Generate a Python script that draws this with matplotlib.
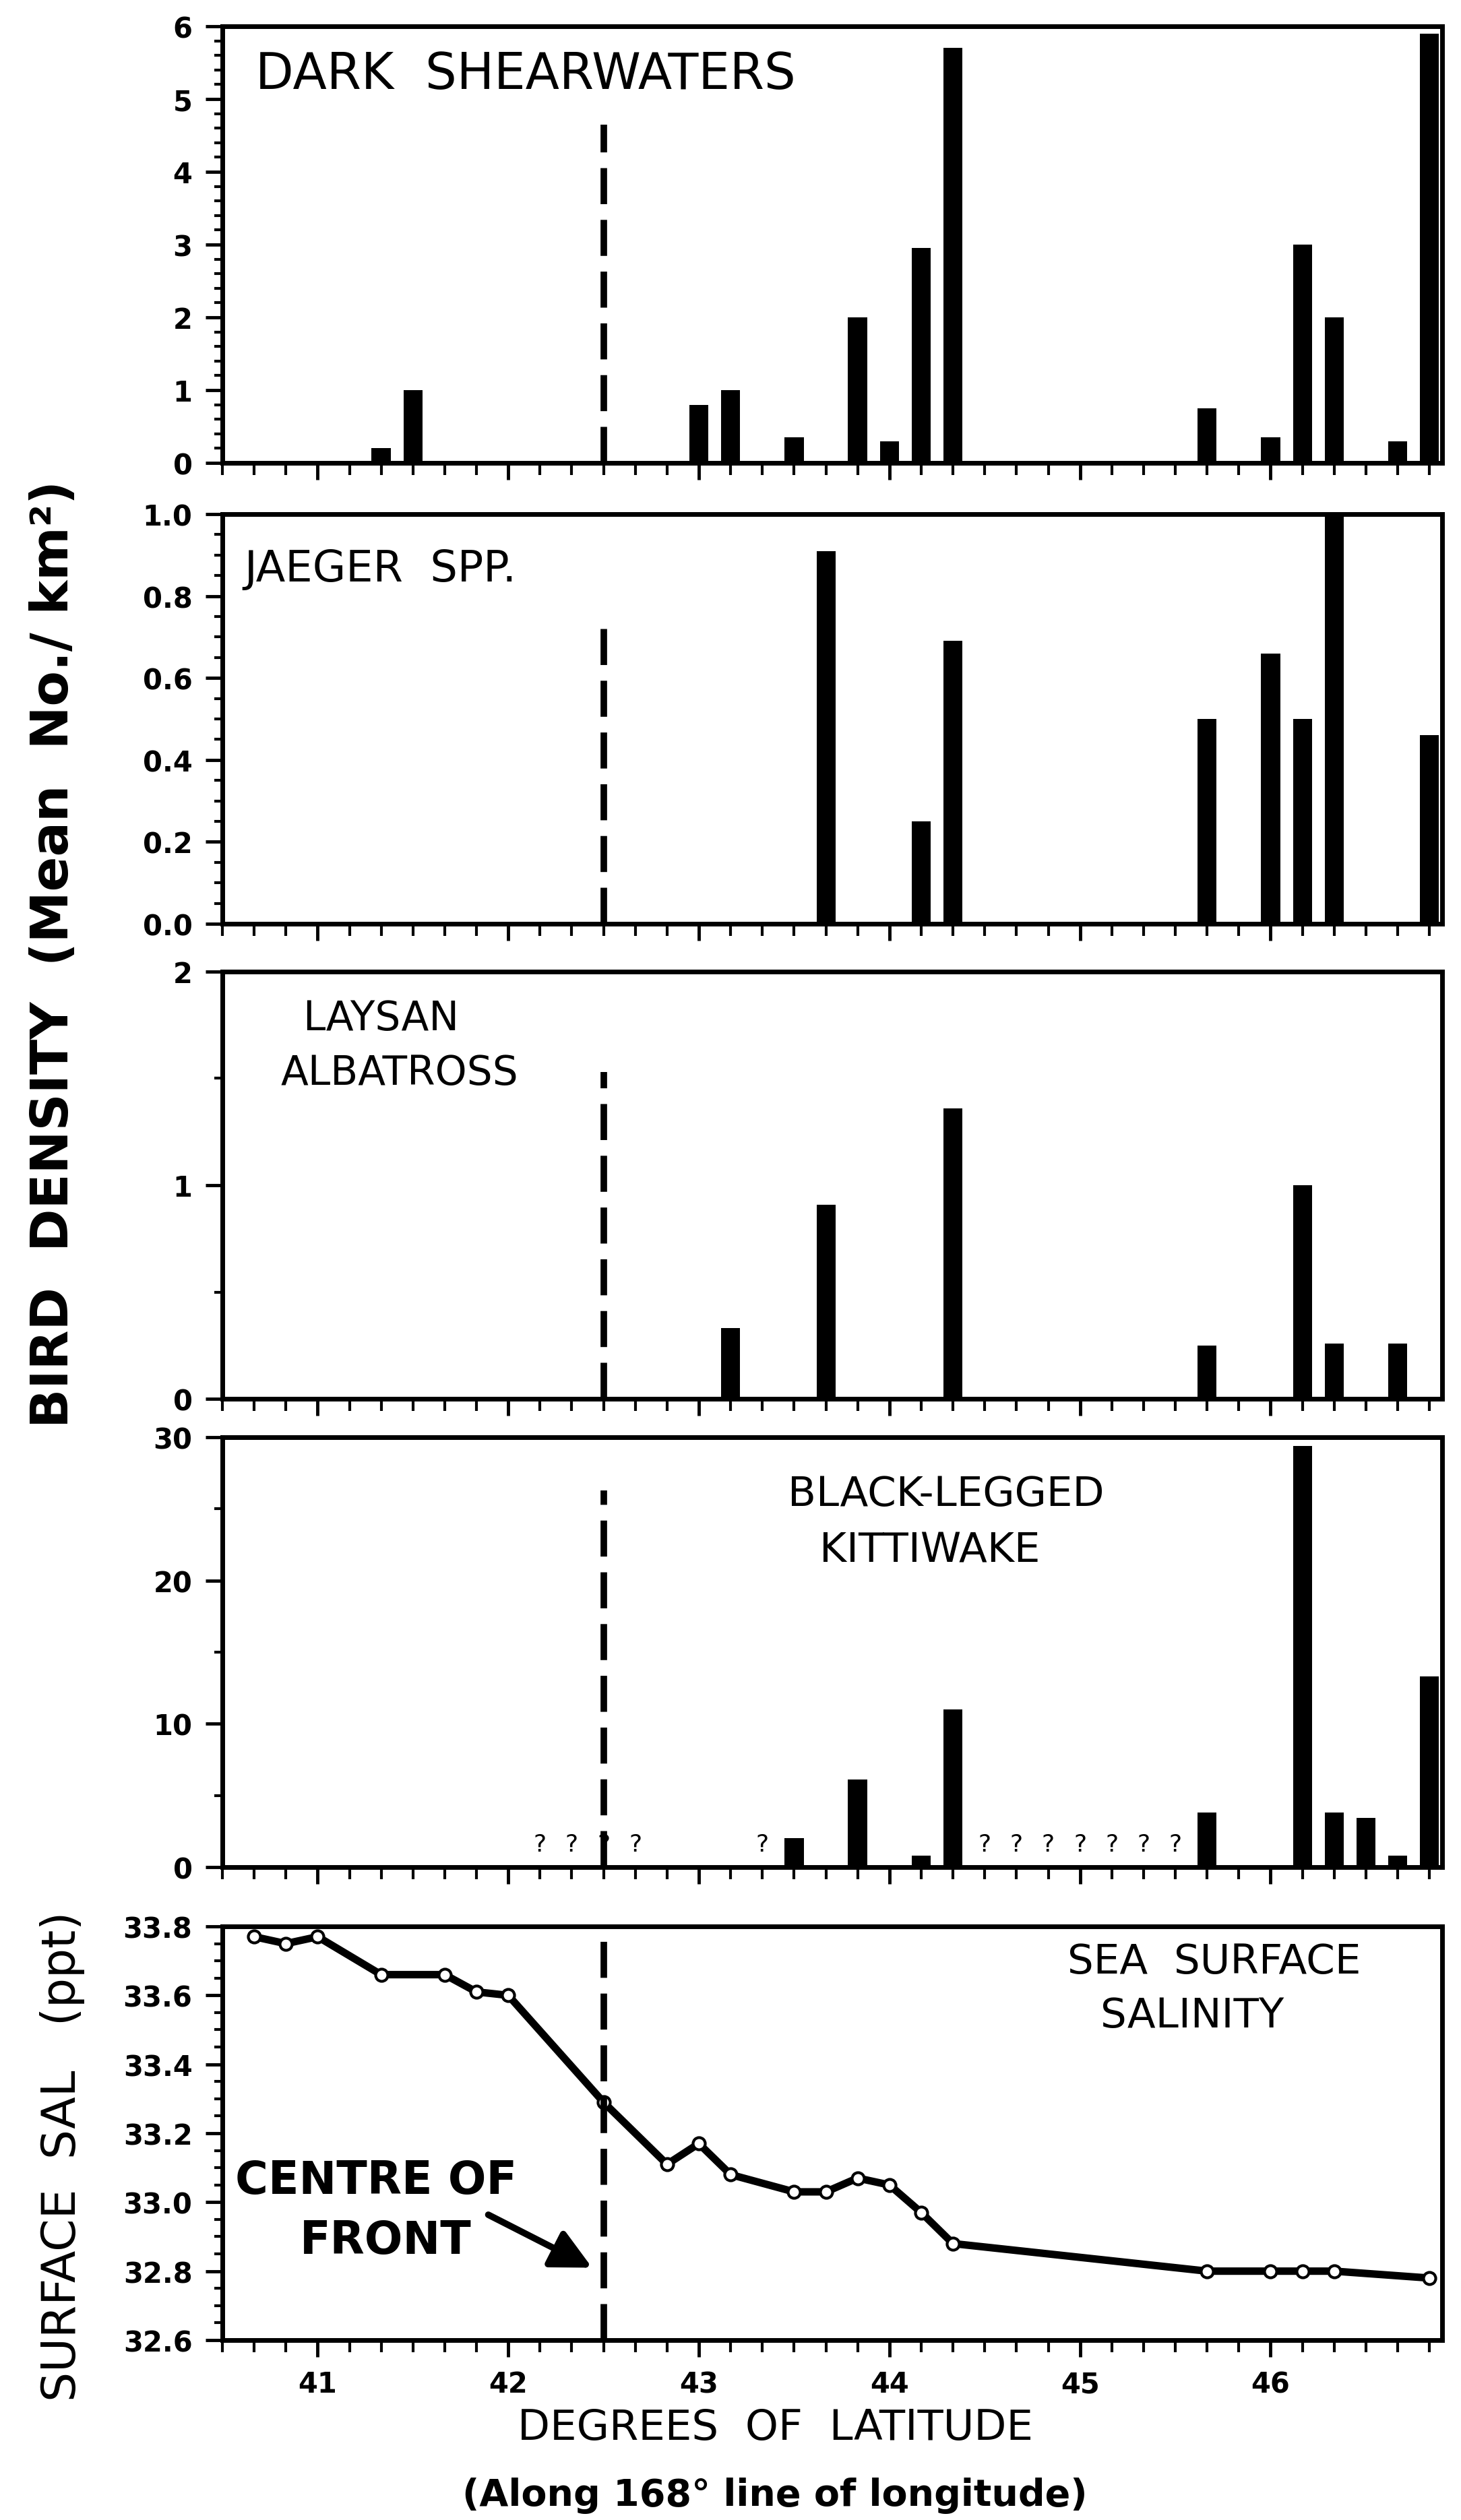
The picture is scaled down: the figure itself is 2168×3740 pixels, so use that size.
import matplotlib.pyplot as plt
from matplotlib.ticker import MultipleLocator, FixedLocator

# stations along the 168 deg line, latitude in degrees (10 minute steps)
shear_lat = [41.333, 41.5, 43.0, 43.167, 43.5, 43.833, 44.0, 44.167, 44.333,
             45.667, 46.0, 46.167, 46.333, 46.667, 46.833]
shear_val = [0.2, 1.0, 0.8, 1.0, 0.35, 2.0, 0.3, 2.95, 5.7,
             0.75, 0.35, 3.0, 2.0, 0.3, 5.9]

jaeger_lat = [43.667, 44.167, 44.333, 45.667, 46.0, 46.167, 46.333, 46.833]
jaeger_val = [0.91, 0.25, 0.69, 0.5, 0.66, 0.5, 1.0, 0.46]

albatross_lat = [43.167, 43.667, 44.333, 45.667, 46.167, 46.333, 46.667]
albatross_val = [0.33, 0.91, 1.36, 0.25, 1.0, 0.26, 0.26]

kittiwake_lat = [43.5, 43.833, 44.167, 44.333, 45.667, 46.167, 46.333, 46.5, 46.667, 46.833]
kittiwake_val = [2.0, 6.1, 0.8, 11.0, 3.8, 29.4, 3.8, 3.45, 0.8, 13.3]
# stations where kittiwakes could not be told apart ("?")
kittiwake_unknown = [42.167, 42.333, 42.5, 42.667, 43.333,
                     44.5, 44.667, 44.833, 45.0, 45.167, 45.333, 45.5]

sal_lat = [40.667, 40.833, 41.0, 41.333, 41.667, 41.833, 42.0, 42.5, 42.833, 43.0,
           43.167, 43.5, 43.667, 43.833, 44.0, 44.167, 44.333, 45.667, 46.0,
           46.167, 46.333, 46.833]
sal_val = [33.77, 33.75, 33.77, 33.66, 33.66, 33.61, 33.60, 33.29, 33.11, 33.17,
           33.08, 33.03, 33.03, 33.07, 33.05, 32.97, 32.88, 32.80, 32.80,
           32.80, 32.80, 32.78]

front_lat = 42.5
lat_ticks = [41, 42, 43, 44, 45, 46]

W, H = 2168, 3741
fig = plt.figure(figsize=(W / 100, H / 100), dpi=100)


def px_rect(top, bottom, left=330, right=2140):
    return [left / W, 1 - bottom / H, (right - left) / W, (bottom - top) / H]


def style_axes(ax, ylim, yticks, ylabels, yminor, xlabels=False):
    ax.set_xlim(40.5, 46.9)
    ax.set_ylim(*ylim)
    for s in ax.spines.values():
        s.set_linewidth(5)
    ax.xaxis.set_major_locator(FixedLocator(lat_ticks))
    ax.xaxis.set_minor_locator(MultipleLocator(1 / 6))
    ax.yaxis.set_major_locator(FixedLocator(yticks))
    ax.set_yticklabels(ylabels)
    ax.yaxis.set_minor_locator(MultipleLocator(yminor))
    ax.tick_params(axis='x', which='major', direction='out', length=18, width=3.5,
                   labelbottom=xlabels, labelsize=30, pad=14)
    ax.tick_params(axis='x', which='minor', direction='out', length=13, width=3)
    ax.tick_params(axis='y', which='major', direction='out', length=18, width=3.5,
                   labelsize=30, pad=14)
    ax.tick_params(axis='y', which='minor', direction='out', length=9, width=3)
    for lab in ax.get_yticklabels() + ax.get_xticklabels():
        lab.set_fontweight('bold')


def front_line(ax, y0, y1):
    ax.vlines(front_lat, y0, y1, colors='k', linestyles=(0, (5.5, 2.4)), lw=7)


bar_w = 0.1

# DARK SHEARWATERS
ax1 = fig.add_axes(px_rect(40, 688))
ax1.bar(shear_lat, shear_val, width=bar_w, color='k')
front_line(ax1, 0, 4.65)
style_axes(ax1, (0, 6), [0, 1, 2, 3, 4, 5, 6], ['0', '1', '2', '3', '4', '5', '6'], 0.2)
ax1.text(0.027, 0.889, 'DARK  SHEARWATERS', transform=ax1.transAxes,
         fontsize=53, ha='left', va='center')

# JAEGER SPP.
ax2 = fig.add_axes(px_rect(764, 1372))
ax2.bar(jaeger_lat, jaeger_val, width=bar_w, color='k')
front_line(ax2, 0, 0.74)
style_axes(ax2, (0, 1.0), [0, 0.2, 0.4, 0.6, 0.8, 1.0],
           ['0.0', '0.2', '0.4', '0.6', '0.8', '1.0'], 0.05)
ax2.text(0.018, 0.867, 'JAEGER  SPP.', transform=ax2.transAxes,
         fontsize=46, ha='left', va='center')

# LAYSAN ALBATROSS
ax3 = fig.add_axes(px_rect(1443, 2077))
ax3.bar(albatross_lat, albatross_val, width=bar_w, color='k')
front_line(ax3, 0, 1.53)
style_axes(ax3, (0, 2), [0, 1, 2], ['0', '1', '2'], 0.5)
ax3.text(0.130, 0.890, 'LAYSAN', transform=ax3.transAxes,
         fontsize=43, ha='center', va='center')
ax3.text(0.145, 0.762, 'ALBATROSS', transform=ax3.transAxes,
         fontsize=43, ha='center', va='center')

# BLACK-LEGGED KITTIWAKE
ax4 = fig.add_axes(px_rect(2134, 2772))
ax4.bar(kittiwake_lat, kittiwake_val, width=bar_w, color='k')
for lat in kittiwake_unknown:
    ax4.text(lat, 1.6, '?', fontsize=26, ha='center', va='center')
front_line(ax4, 0, 26.3)
style_axes(ax4, (0, 30), [0, 10, 20, 30], ['0', '10', '20', '30'], 5)
ax4.text(0.593, 0.868, 'BLACK-LEGGED', transform=ax4.transAxes,
         fontsize=44, ha='center', va='center')
ax4.text(0.580, 0.737, 'KITTIWAKE', transform=ax4.transAxes,
         fontsize=44, ha='center', va='center')

# SEA SURFACE SALINITY
ax5 = fig.add_axes(px_rect(2860, 3474))
ax5.plot(sal_lat, sal_val, color='k', lw=8, marker='o', ms=13,
         mfc='white', mec='k', mew=3)
front_line(ax5, 32.6, 33.8)
style_axes(ax5, (32.6, 33.8), [32.6, 32.8, 33.0, 33.2, 33.4, 33.6, 33.8],
           ['32.6', '32.8', '33.0', '33.2', '33.4', '33.6', '33.8'], 0.05, xlabels=True)
ax5.text(0.813, 0.915, 'SEA  SURFACE', transform=ax5.transAxes,
         fontsize=44, ha='center', va='center')
ax5.text(0.795, 0.785, 'SALINITY', transform=ax5.transAxes,
         fontsize=44, ha='center', va='center')
ax5.text(0.126, 0.386, 'CENTRE OF', transform=ax5.transAxes,
         fontsize=48, fontweight='bold', ha='center', va='center')
ax5.text(0.134, 0.241, 'FRONT', transform=ax5.transAxes,
         fontsize=48, fontweight='bold', ha='center', va='center')
ax5.annotate('', xy=(42.44, 32.81), xycoords='data',
             xytext=(0.218, 0.303), textcoords='axes fraction',
             arrowprops=dict(arrowstyle='-|>,head_length=0.9,head_width=0.45',
                             lw=7, color='k', mutation_scale=40,
                             shrinkA=0, shrinkB=0))

fig.text(80 / W, 1 - 1416 / H, 'BIRD  DENSITY  (Mean  No./ km²)', rotation=90,
         fontsize=55, fontweight='bold', ha='center', va='center')
fig.text(93 / W, 1 - 3200 / H, 'SURFACE  SAL   (ppt)', rotation=90,
         fontsize=50, ha='center', va='center')
fig.text(1150 / W, 1 - 3604 / H, 'DEGREES  OF  LATITUDE',
         fontsize=45, ha='center', va='center')
fig.text(1150 / W, 1 - 3704 / H, '(Along 168° line of longitude)',
         fontsize=40, fontweight='bold', ha='center', va='center')

fig.savefig('out.png', dpi=100, facecolor='white')
